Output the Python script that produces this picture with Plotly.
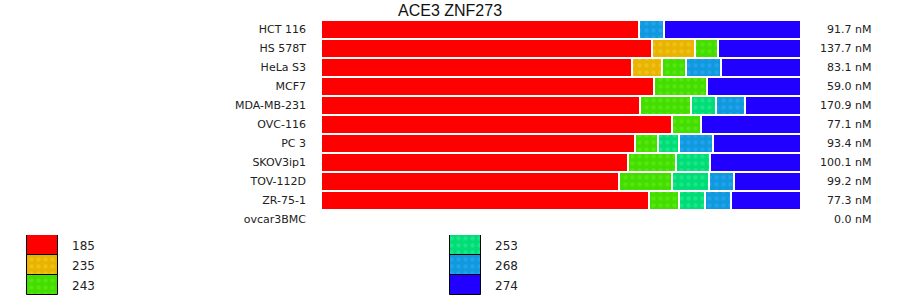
import plotly.graph_objects as go
import numpy as np

title = "ACE3 ZNF273"
categories = ["HCT 116", "HS 578T", "HeLa S3", "MCF7", "MDA-MB-231", "OVC-116",
              "PC 3", "SKOV3ip1", "TOV-112D", "ZR-75-1", "ovcar3BMC"]
series_names = ["185", "235", "243", "253", "268", "274"]

# share (%) of each series per cell line
s185 = [66.3, 69.0, 64.8, 69.4, 66.5, 73.1, 65.4, 64.0, 62.1, 68.3, 0]
s235 = [0, 9.0, 6.2, 0, 0, 0, 0, 0, 0, 0, 0]
s243 = [0, 4.8, 5.0, 11.0, 10.6, 6.0, 4.8, 10.0, 11.0, 6.3, 0]
s253 = [0, 0, 0, 0, 5.2, 0, 4.4, 7.1, 7.7, 5.4, 0]
s268 = [5.2, 0, 7.3, 0, 6.0, 0, 7.1, 0, 5.2, 5.4, 0]
s274 = [28.5, 17.2, 16.7, 19.6, 11.7, 20.9, 18.3, 18.9, 14.0, 14.6, 0]
totals_nM = [91.7, 137.7, 83.1, 59.0, 170.9, 77.1, 93.4, 100.1, 99.2, 77.3, 0.0]

series_values = [s185, s235, s243, s253, s268, s274]
colors = ["#ff0000", "#e8b400", "#44dd00", "#00dd77", "#1199dd", "#2200ff"]
fgcolors = [None, "#f7cc33", "#66f022", "#33ee99", "#33aaff", None]

W, H = 900, 299
fig = go.Figure()

base = np.zeros(len(categories))
for name, vals, c, fg in zip(series_names, series_values, colors, fgcolors):
    v = np.array(vals, dtype=float)
    xs = [val if val > 0 else None for val in v]
    marker = dict(color=c, line=dict(color="white", width=2))
    if fg:
        marker["pattern"] = dict(shape=".", fgcolor=fg, bgcolor=c, size=7, solidity=0.3)
    fig.add_trace(go.Bar(y=categories, x=xs, base=base.copy(), orientation="h",
                         marker=marker, name=name, showlegend=False,
                         hoverinfo="skip", xaxis="x", yaxis="y"))
    base = base + v

# legend built as bars on a second axis pair
leg_cols = [27, 450]
for i, (name, c, fg) in enumerate(zip(series_names, colors, fgcolors)):
    col, row = divmod(i, 3)
    marker = dict(color=c, line=dict(color="black", width=1))
    if fg:
        marker["pattern"] = dict(shape=".", fgcolor=fg, bgcolor=c, size=7, solidity=0.3)
    fig.add_trace(go.Bar(y=[row], x=[31], base=[leg_cols[col]], width=[1],
                         orientation="h", marker=marker, showlegend=False,
                         hoverinfo="skip", xaxis="x2", yaxis="y2"))
    fig.add_trace(go.Scatter(x=[leg_cols[col] + 45], y=[row + 0.1], mode="text",
                             text=[name], textposition="middle right",
                             textfont=dict(family="DejaVu Sans", size=12, color="#222"),
                             showlegend=False, hoverinfo="skip", xaxis="x2", yaxis="y2"))

annotations = []
for cat, t in zip(categories, totals_nM):
    annotations.append(dict(x=873 / W, xref="paper", y=cat, yref="y", xanchor="right",
                            yanchor="middle", text=f"{t:.1f} nM", showarrow=False,
                            font=dict(family="DejaVu Sans", size=11, color="#222")))
annotations.append(dict(x=450 / W, y=1 - 11 / H, xref="paper", yref="paper",
                        xanchor="center", yanchor="middle", text=title, showarrow=False,
                        font=dict(family="Liberation Sans", size=16, color="#111")))

fig.update_layout(
    width=W, height=H,
    margin=dict(l=0, r=0, t=0, b=0),
    paper_bgcolor="white", plot_bgcolor="white",
    barmode="overlay", bargap=0,
    xaxis=dict(domain=[321 / W, 801 / W], range=[0, 100], visible=False, fixedrange=True),
    yaxis=dict(domain=[1 - 229 / H, 1 - 20 / H], categoryorder="array",
               categoryarray=categories, range=[len(categories) - 0.5, -0.5],
               showgrid=False, zeroline=False, showline=False, ticks="",
               ticklabelstandoff=14,
               tickfont=dict(family="DejaVu Sans", size=11, color="#222")),
    xaxis2=dict(domain=[0, 1], range=[0, W], visible=False, anchor="y2"),
    yaxis2=dict(domain=[1 - 295 / H, 1 - 235 / H], range=[2.5, -0.5], visible=False,
                anchor="x2"),
    annotations=annotations,
    showlegend=False,
)

fig.write_html("out.html")
